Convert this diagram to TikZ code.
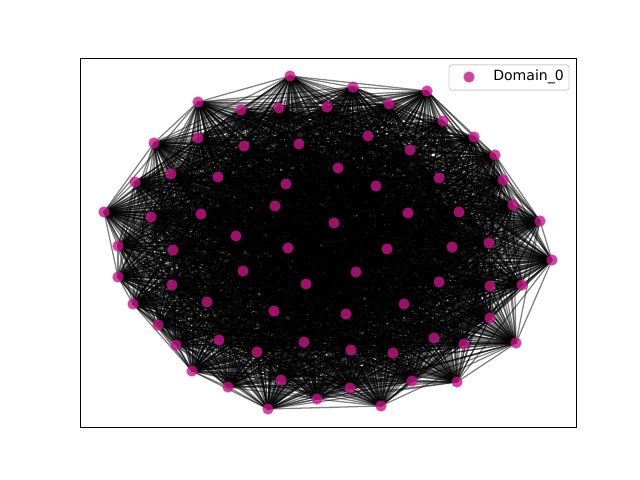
\documentclass[tikz,border=0pt]{standalone}
\usepackage{xcolor}
\usepackage{fontspec}
\setmainfont{DejaVu Sans}
\usetikzlibrary{
    positioning
}
\definecolor{domaincolor}{RGB}{199,21,133}
\pgfdeclarelayer{background}
\pgfsetlayers{background,main}
\tikzset{%
    vertex/.style={%
        circle,
        fill=domaincolor,
        fill opacity=0.8,
        draw=none,
        inner sep = 0pt,
        outer sep = 0pt,
        minimum size=0.28cm
    },
    edge/.style={%
        draw=black,
        draw opacity=0.5,
        line width=0.9pt
    },
    axes frame/.style={%
        rectangle,
        draw=black,
        line width=0.6pt,
        inner sep = 0pt
    },
    legend frame/.style={%
        rectangle,
        draw=black!20,
        fill=white,
        rounded corners=2pt,
        line width=0.6pt,
        inner sep = 0pt,
        minimum width=3cm,
        minimum height=0.63cm
    },
}

\begin{document}
\begin{tikzpicture}[x=0.025cm, y=-0.025cm]
    \useasboundingbox (0,0) rectangle (640,480);
    \node[axes frame, minimum width=12.4cm, minimum height=9.225cm] (axes) at (328,242.5) {};

    % vertices of Domain_0
    \foreach \i/\x/\y in {
        1/290/76, 2/353/87, 3/427/91, 4/198/102, 5/241/110, 6/279/108,
        7/327/107, 8/389/104, 9/443/121, 10/474/137, 11/495/155, 12/154/143,
        13/198/138, 14/244/146, 15/299/144, 16/368/136, 17/410/150, 18/503/180,
        19/135/182, 20/171/174, 21/218/177, 22/286/184, 23/338/168, 24/376/186,
        25/439/178, 26/513/205, 27/104/212, 28/151/217, 29/201/214, 30/275/206,
        31/334/223, 32/408/213, 33/459/212, 34/540/221, 35/118/246, 36/173/250,
        37/236/236, 38/288/248, 39/387/249, 40/452/247, 41/489/243, 42/552/260,
        43/118/277, 44/172/285, 45/243/271, 46/356/272, 47/439/282, 48/490/286,
        49/522/285, 50/133/304, 51/207/302, 52/306/284, 53/274/311, 54/346/314,
        55/404/304, 56/158/325, 57/219/340, 58/304/342, 59/490/318, 60/176/345,
        61/257/352, 62/351/350, 63/434/338, 64/464/344, 65/516/343, 66/192/371,
        67/393/353, 68/228/387, 69/281/380, 70/317/399, 71/350/388, 72/412/381,
        73/457/382, 74/268/409, 75/381/406}
        \node[vertex] (n\i) at (\x,\y) {};

    % random edges, fixed seed
    \pgfmathsetseed{7}
    \begin{pgfonlayer}{background}
        \foreach \i in {1,...,74}{
            \pgfmathtruncatemacro{\nexti}{\i+1}
            \foreach \j in {\nexti,...,75}{
                \pgfmathsetmacro{\coin}{rnd}
                \ifdim\coin pt<0.92pt
                    \draw[edge] (n\i.center) -- (n\j.center);
                \fi
            }
        }
    \end{pgfonlayer}

    % legend
    \node[legend frame] (legend) at (509,77.5) {};
    \node[vertex] (legendmark) at (469,77) {};
    \node[anchor=west, inner sep=0pt, font=\fontsize{10}{12}\selectfont] (legendtext) at (493,77) {Domain\_0};
\end{tikzpicture}
\end{document}
